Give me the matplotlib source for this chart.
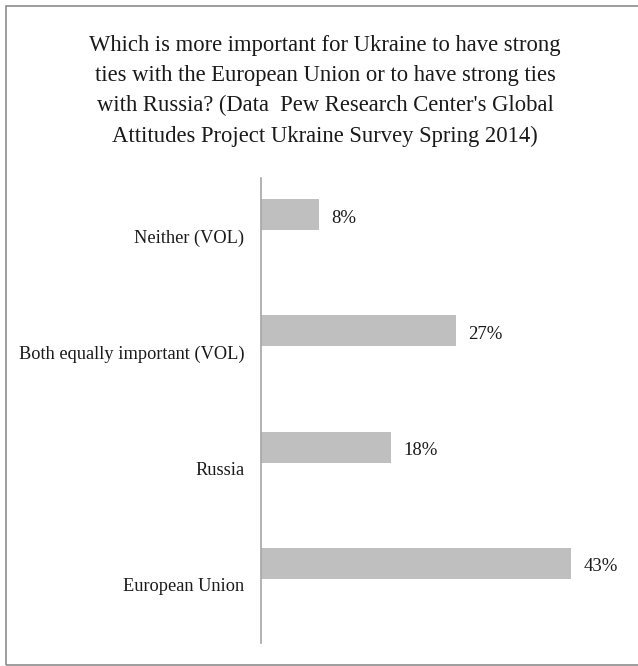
import matplotlib
matplotlib.use("Agg")
import matplotlib.pyplot as plt
from matplotlib.patches import Rectangle

categories = ["European Union", "Russia", "Both equally important (VOL)", "Neither (VOL)"]
values = [43, 18, 27, 8]
title = ("Which is more important for Ukraine to have strong\n"
         "ties with the European Union or to have strong ties\n"
         "with Russia? (Data  Pew Research Center's Global\n"
         "Attitudes Project Ukraine Survey Spring 2014)")

W, H = 638, 666
fig = plt.figure(figsize=(W / 100, H / 100), dpi=100)
plt.rcParams['font.family'] = ['Liberation Serif', 'DejaVu Serif']

# outer border
fig.add_artist(Rectangle((6 / W, 1 / H), (W + 10) / W, (660 - 1) / H, transform=fig.transFigure,
                         fill=False, edgecolor='#8c8c8c', linewidth=1.2))

fig.text(325 / W, 1 - 35 / H, title, ha='center', va='top', fontsize=16.3,
         linespacing=1.57, color='#1a1a1a')

ax = fig.add_axes([261 / W, (H - 643) / H, (622 - 261) / W, (643 - 178) / H])
pos = list(range(len(categories)))
offset = 0.185
bh = 0.267
ypos = [p + offset for p in pos]
ax.barh(ypos, values, height=bh, color='#bfbfbf', edgecolor='none')
for y, v in zip(ypos, values):
    ax.text(v + 1.7, y - 0.03, f"{v}%", va='center', ha='left', fontsize=13.5, color='#1a1a1a')

ax.set_xlim(0, 50)
ax.set_ylim(-0.5, 3.5)
ax.set_yticks(pos)
ax.set_yticklabels(categories, fontsize=13.2, color='#1a1a1a')
ax.tick_params(axis='y', length=0, pad=12)
ax.set_xticks([])
for s in ['top', 'right', 'bottom']:
    ax.spines[s].set_visible(False)
ax.spines['left'].set_color('#a6a6a6')
ax.spines['left'].set_linewidth(1.2)

fig.savefig("out.png", dpi=100)
